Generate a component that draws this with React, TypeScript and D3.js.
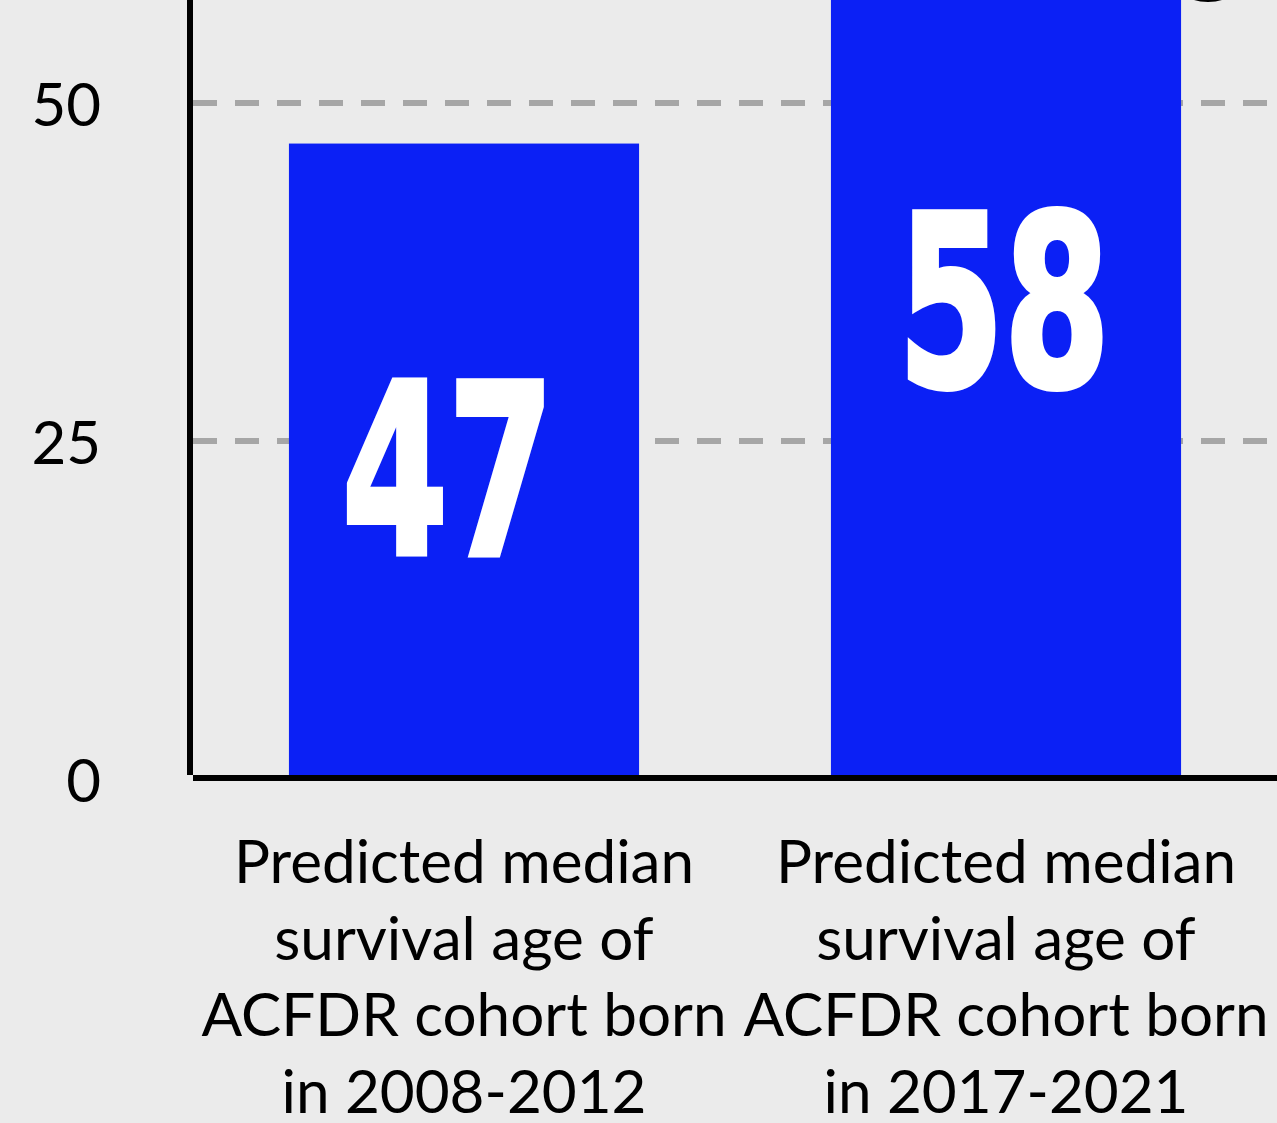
import React, { useEffect } from "react";
import * as d3 from "d3";

const categories = [
  ["Predicted median", "survival age of", "ACFDR cohort born", "in 2008-2012"],
  ["Predicted median", "survival age of", "ACFDR cohort born", "in 2017-2021"],
];
const categoryKeys = ["2008-2012", "2017-2021"];
const values = [47, 58];
const yTicks = [0, 25, 50];

const W = 1277;
const H = 1123;
const BG = "#ebebeb";
const BAR = "#0b20f5";
const zeroY = 779;
const pxPerUnit = 13.52;
const labelDy = [410, 391];
const labelDx = [-16, -2];

export default function App() {
  useEffect(() => {
    document.body.style.margin = "0";
    document.body.style.background = BG;
  }, []);

  const y = d3
    .scaleLinear()
    .domain([0, 50])
    .range([zeroY, zeroY - 50 * pxPerUnit]);
  const x = d3
    .scaleBand<string>()
    .domain(categoryKeys)
    .range([193, 1277])
    .paddingInner(0.354)
    .paddingOuter(0.177);

  return (
    <svg
      width={W}
      height={H}
      style={{ position: "absolute", left: 0, top: 0, display: "block" }}
    >
      <rect x={0} y={0} width={W} height={H} fill={BG} />
      {/* gridlines */}
      {yTicks
        .filter((t) => t > 0)
        .map((t) => (
          <line
            key={t}
            x1={193}
            x2={W}
            y1={y(t)}
            y2={y(t)}
            stroke="#a6a6a6"
            strokeWidth={6}
            strokeDasharray="24 18"
          />
        ))}
      {/* bars */}
      {values.map((v, i) => (
        <rect
          key={i}
          x={x(categoryKeys[i])}
          y={y(v)}
          width={x.bandwidth()}
          height={zeroY - 4 - y(v)}
          fill={BAR}
        />
      ))}
      {/* value labels */}
      {values.map((v, i) => (
        <g
          key={i}
          transform={`translate(${(x(categoryKeys[i]) as number) + x.bandwidth() / 2 + labelDx[i]},${y(v) + labelDy[i]}) scale(0.64,1)`}
        >
          <text
            x={0}
            y={0}
            textAnchor="middle"
            fill="#fff"
            stroke="#fff"
            strokeWidth={6}
            strokeLinejoin="miter"
            fontFamily="'DejaVu Sans', sans-serif"
            fontWeight={700}
            fontSize={238}
          >
            {v}
          </text>
        </g>
      ))}
      {/* axes */}
      <line x1={190} x2={190} y1={0} y2={775} stroke="#000" strokeWidth={6} />
      <line x1={193} x2={W} y1={778} y2={778} stroke="#000" strokeWidth={6} />
      {/* tick labels */}
      {yTicks.map((t) => (
        <text
          key={t}
          x={101}
          y={y(t)}
          textAnchor="end"
          dominantBaseline="central"
          fontFamily="Lato, sans-serif"
          fontSize={60}
          fill="#000"
        >
          {t}
        </text>
      ))}
      {/* category labels */}
      {categories.map((lines, i) => (
        <text
          key={i}
          x={(x(categoryKeys[i]) as number) + x.bandwidth() / 2}
          y={883}
          textAnchor="middle"
          fontFamily="Lato, sans-serif"
          fontSize={60.2}
          fill="#000"
        >
          {lines.map((l, j) => (
            <tspan key={j} x={(x(categoryKeys[i]) as number) + x.bandwidth() / 2} y={883 + j * 76.7}>
              {l}
            </tspan>
          ))}
        </text>
      ))}
      {/* partial glyph visible at top edge */}
      <ellipse cx={1208} cy={-5} rx={20} ry={7} fill="#000" />
    </svg>
  );
}
